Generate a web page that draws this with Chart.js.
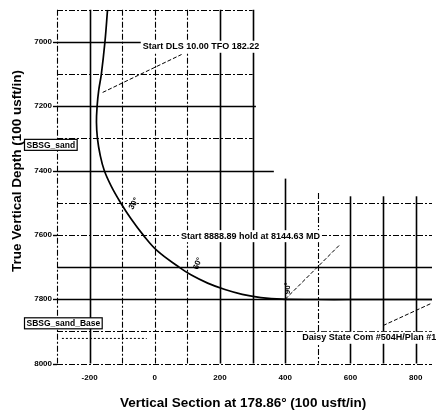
<!DOCTYPE html>
<html><head><meta charset="utf-8">
<script src="https://cdn.jsdelivr.net/npm/chart.js@4/dist/chart.umd.min.js"></script>
<style>html,body{margin:0;padding:0;background:#fff}canvas{display:block}</style>
</head><body>
<canvas id="c" width="441" height="416"></canvas>
<script>
// Well path: vertical section (usft) vs true vertical depth (usft)
const wellVS  = [-145, -153, -164, -172, -177, -179, -176, -168, -155, -133, -105, -73, -36, 8, 74, 112, 162, 215, 268, 325, 390, 500, 600, 700, 850];
const wellTVD = [6900, 7000, 7100, 7150, 7200, 7250, 7300, 7350, 7400, 7450, 7500, 7550, 7600, 7650, 7700, 7725, 7750, 7770, 7785, 7795, 7800, 7801, 7801, 7801, 7801];

const xTickValues = [-200, 0, 200, 400, 600, 800];
const yTickValues = [7000, 7200, 7400, 7600, 7800, 8000];

// grid (vertical lines): x value, from TVD, to TVD, solid?
const vGridX     = [-300, -200, -100, 0, 100, 200, 300, 400, 500, 600, 700, 800];
const vGridFrom  = [6900, 6900, 6900, 6900, 6900, 6900, 6900, 7425, 7470, 7480, 7480, 7480];
const vGridTo    = [8000, 8000, 8000, 8000, 8000, 8000, 8000, 8000, 8000, 8000, 8000, 8000];
const vGridSolid = [false, true, false, false, false, true, true, true, false, true, true, true];
// grid (horizontal lines): TVD value, from VS, to VS, solid?
const hGridY     = [6900, 7000, 7100, 7200, 7300, 7400, 7500, 7600, 7700, 7800, 7900, 8000];
const hGridFrom  = [-300, -300, -300, -300, -300, -300, -300, -300, -300, -300, -300, -300];
const hGridTo    = [300, 300, 300, 310, 300, 365, 850, 850, 850, 850, 850, 850];
const hGridSolid = [false, true, false, true, false, true, false, false, true, true, false, false];

// formation line (dotted) below SBSG_sand_Base
const formVS  = [-285, -25];
const formTVD = [7922, 7922];

// annotations
const noteText = ["Start DLS 10.00 TFO 182.22", "Start 8888.89 hold at 8144.63 MD", "Daisy State Com #504H/Plan #1"];
const noteVS   = [-37, 80, 452];   // left edge of text
const noteTVD  = [7015, 7604, 7920];
const leadVS0  = [-160, 400, 700];
const leadTVD0 = [7157, 7800, 7882];
const leadVS1  = [82, 567, 850];
const leadTVD1 = [7039, 7631, 7812];

// formation tops (boxed labels at left)
const formText = ["SBSG_sand", "SBSG_sand_Base"];
const formTop  = [7320, 7875];

// inclination labels along the path
const incText = ["30°", "60°", "90°"];
const incVS   = [-64, 132, 408];
const incTVD  = [7503, 7689, 7766];
const incRot  = [-60, -68, -90];

const FONT = '"Liberation Sans", Arial, sans-serif';

const leaderSets = noteText.map((t, i) => ({
  data: [{x: leadVS0[i], y: leadTVD0[i]}, {x: leadVS1[i], y: leadTVD1[i]}],
  showLine: true, borderColor: '#000', borderWidth: 1, borderDash: [4, 2],
  pointRadius: 0, tension: 0, order: 2
}));

const drawPlugin = {
  id: 'wellplan',
  beforeDatasetsDraw(chart) {
    const ctx = chart.ctx, xs = chart.scales.x, ys = chart.scales.y;
    ctx.save();
    ctx.strokeStyle = '#000';
    vGridX.forEach((v, i) => {
      const px = Math.round(xs.getPixelForValue(v)) + 0.5;
      ctx.lineWidth = vGridSolid[i] ? 1.6 : 1.1;
      ctx.setLineDash(vGridSolid[i] ? [] : [6, 2, 2, 2]);
      ctx.beginPath();
      ctx.moveTo(px, ys.getPixelForValue(vGridFrom[i]));
      ctx.lineTo(px, ys.getPixelForValue(vGridTo[i]));
      ctx.stroke();
    });
    hGridY.forEach((v, i) => {
      const py = Math.round(ys.getPixelForValue(v)) + 0.5;
      ctx.lineWidth = hGridSolid[i] ? 1.6 : 1.1;
      ctx.setLineDash(hGridSolid[i] ? [] : [6, 2, 2, 2]);
      ctx.beginPath();
      ctx.moveTo(xs.getPixelForValue(hGridFrom[i]), py);
      ctx.lineTo(xs.getPixelForValue(hGridTo[i]), py);
      ctx.stroke();
    });
    // formation dotted line
    ctx.lineWidth = 1;
    ctx.setLineDash([2, 2]);
    ctx.beginPath();
    ctx.moveTo(xs.getPixelForValue(formVS[0]), ys.getPixelForValue(formTVD[0]));
    ctx.lineTo(xs.getPixelForValue(formVS[1]), ys.getPixelForValue(formTVD[1]));
    ctx.stroke();
    // y-axis tick marks
    ctx.setLineDash([]);
    ctx.lineWidth = 1.4;
    yTickValues.forEach(v => {
      const py = Math.round(ys.getPixelForValue(v)) + 0.5;
      ctx.beginPath(); ctx.moveTo(chart.chartArea.left - 4, py); ctx.lineTo(chart.chartArea.left, py); ctx.stroke();
    });
    ctx.restore();
  },
  afterDatasetsDraw(chart) {
    const ctx = chart.ctx, xs = chart.scales.x, ys = chart.scales.y;
    ctx.save();
    ctx.fillStyle = '#000';
    ctx.textBaseline = 'middle';
    // notes with white background
    ctx.font = 'bold 9px ' + FONT;
    noteText.forEach((t, i) => {
      const x = xs.getPixelForValue(noteVS[i]);
      const y = ys.getPixelForValue(noteTVD[i]);
      const w = ctx.measureText(t).width;
      ctx.fillStyle = '#fff';
      ctx.fillRect(x - 2, y - 6, w + 4, 12);
      ctx.fillStyle = '#000';
      ctx.textAlign = 'left';
      ctx.fillText(t, x, y);
    });
    // inclination labels
    ctx.font = 'bold 8px ' + FONT;
    ctx.textAlign = 'center';
    incText.forEach((t, i) => {
      ctx.save();
      ctx.translate(xs.getPixelForValue(incVS[i]), ys.getPixelForValue(incTVD[i]));
      ctx.rotate(incRot[i] * Math.PI / 180);
      ctx.fillText(t, 0, 0);
      ctx.restore();
    });
    // formation boxes
    ctx.font = 'bold 8.5px ' + FONT;
    ctx.textAlign = 'left';
    formText.forEach((t, i) => {
      const y = ys.getPixelForValue(formTop[i]);
      const w = ctx.measureText(t).width;
      const x0 = chart.chartArea.left - 33;
      ctx.fillStyle = '#fff';
      ctx.fillRect(x0, y - 5.5, w + 4, 11);
      ctx.strokeStyle = '#000';
      ctx.lineWidth = 1.2;
      ctx.strokeRect(x0 + 0.5, y - 5.5, w + 4, 11);
      ctx.fillStyle = '#000';
      ctx.fillText(t, x0 + 2.5, y + 0.5);
    });
    // axis titles
    ctx.font = 'bold 13.5px ' + FONT;
    ctx.textAlign = 'center';
    ctx.textBaseline = 'alphabetic';
    ctx.fillText('Vertical Section at 178.86° (100 usft/in)', 243, 407);
    ctx.save();
    ctx.translate(21, 171);
    ctx.rotate(-Math.PI / 2);
    ctx.fillText('True Vertical Depth (100 usft/in)', 0, 0);
    ctx.restore();
    ctx.restore();
  }
};

new Chart(document.getElementById('c'), {
  type: 'scatter',
  data: {
    datasets: [{
      data: wellVS.map((v, i) => ({x: v, y: wellTVD[i]})),
      showLine: true, borderColor: '#000', borderWidth: 1.7,
      pointRadius: 0, tension: 0.4, order: 1
    }, ...leaderSets]
  },
  options: {
    responsive: false, animation: false, devicePixelRatio: 1,
    layout: {padding: {left: 0, top: 4, right: 9, bottom: 0}},
    plugins: {legend: {display: false}, tooltip: {enabled: false}},
    scales: {
      x: {
        type: 'linear', min: -300, max: 850,
        afterBuildTicks: s => { s.ticks = xTickValues.map(v => ({value: v})); },
        afterFit: s => { s.height = 52.5; },
        grid: {display: false, drawTicks: false}, border: {display: false},
        ticks: {color: '#000', font: {family: FONT, size: 8, weight: 'bold'}, padding: 9, maxRotation: 0,
                callback: v => String(v)}
      },
      y: {
        type: 'linear', reverse: true, min: 6900, max: 8000,
        afterBuildTicks: s => { s.ticks = yTickValues.map(v => ({value: v})); },
        afterFit: s => { s.width = 57; },
        grid: {display: false, drawTicks: false}, border: {display: false},
        ticks: {color: '#000', font: {family: FONT, size: 8, weight: 'bold'}, padding: 5,
                callback: v => String(v)}
      }
    }
  },
  plugins: [drawPlugin]
});
</script>
</body></html>
